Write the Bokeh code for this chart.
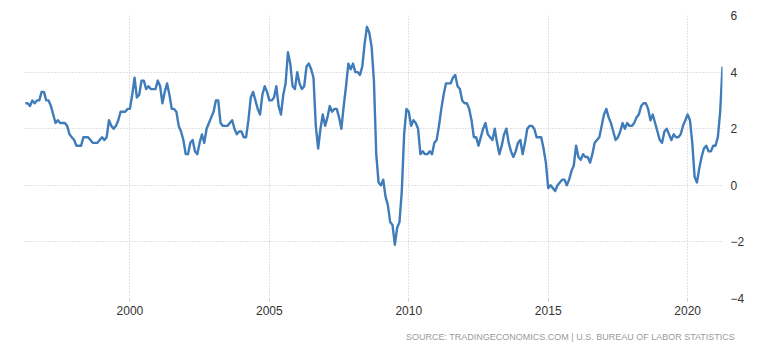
import numpy as np
from bokeh.plotting import figure
from bokeh.models import Range1d, Title, FixedTicker
from bokeh.embed import file_html
from bokeh.resources import INLINE

start_year = 1996
start_month = 4  # April 1996

cpi_yoy = [
    # 1996 (Apr-Dec)
    2.9, 2.9, 2.8, 3.0, 2.9, 3.0, 3.0, 3.3, 3.3,
    # 1997
    3.0, 3.0, 2.8, 2.5, 2.2, 2.3, 2.2, 2.2, 2.2, 2.1, 1.8, 1.7,
    # 1998
    1.6, 1.4, 1.4, 1.4, 1.7, 1.7, 1.7, 1.6, 1.5, 1.5, 1.5, 1.6,
    # 1999
    1.7, 1.6, 1.7, 2.3, 2.1, 2.0, 2.1, 2.3, 2.6, 2.6, 2.6, 2.7,
    # 2000
    2.7, 3.2, 3.8, 3.1, 3.2, 3.7, 3.7, 3.4, 3.5, 3.4, 3.4, 3.4,
    # 2001
    3.7, 3.5, 2.9, 3.3, 3.6, 3.2, 2.7, 2.7, 2.6, 2.1, 1.9, 1.6,
    # 2002
    1.1, 1.1, 1.5, 1.6, 1.2, 1.1, 1.5, 1.8, 1.5, 2.0, 2.2, 2.4,
    # 2003
    2.6, 3.0, 3.0, 2.2, 2.1, 2.1, 2.1, 2.2, 2.3, 2.0, 1.8, 1.9,
    # 2004
    1.9, 1.7, 1.7, 2.3, 3.1, 3.3, 3.0, 2.7, 2.5, 3.2, 3.5, 3.3,
    # 2005
    3.0, 3.0, 3.1, 3.5, 2.8, 2.5, 3.2, 3.6, 4.7, 4.3, 3.5, 3.4,
    # 2006
    4.0, 3.6, 3.4, 3.5, 4.2, 4.3, 4.1, 3.8, 2.1, 1.3, 2.0, 2.5,
    # 2007
    2.1, 2.4, 2.8, 2.6, 2.7, 2.7, 2.4, 2.0, 2.8, 3.5, 4.3, 4.1,
    # 2008
    4.3, 4.0, 4.0, 3.9, 4.2, 5.0, 5.6, 5.4, 4.9, 3.7, 1.1, 0.1,
    # 2009
    0.0, 0.2, -0.4, -0.7, -1.3, -1.4, -2.1, -1.5, -1.3, -0.2, 1.8, 2.7,
    # 2010
    2.6, 2.1, 2.3, 2.2, 2.0, 1.1, 1.2, 1.1, 1.1, 1.2, 1.1, 1.5,
    # 2011
    1.6, 2.1, 2.7, 3.2, 3.6, 3.6, 3.6, 3.8, 3.9, 3.5, 3.4, 3.0,
    # 2012
    2.9, 2.9, 2.7, 2.3, 1.7, 1.7, 1.4, 1.7, 2.0, 2.2, 1.8, 1.7,
    # 2013
    1.6, 2.0, 1.5, 1.1, 1.4, 1.8, 2.0, 1.5, 1.2, 1.0, 1.2, 1.5,
    # 2014
    1.6, 1.1, 1.5, 2.0, 2.1, 2.1, 2.0, 1.7, 1.7, 1.7, 1.3, 0.8,
    # 2015
    -0.1, 0.0, -0.1, -0.2, 0.0, 0.1, 0.2, 0.2, 0.0, 0.2, 0.5, 0.7,
    # 2016
    1.4, 1.0, 0.9, 1.1, 1.0, 1.0, 0.8, 1.1, 1.5, 1.6, 1.7, 2.1,
    # 2017
    2.5, 2.7, 2.4, 2.2, 1.9, 1.6, 1.7, 1.9, 2.2, 2.0, 2.2, 2.1,
    # 2018
    2.1, 2.2, 2.4, 2.5, 2.8, 2.9, 2.9, 2.7, 2.3, 2.5, 2.2, 1.9,
    # 2019
    1.6, 1.5, 1.9, 2.0, 1.8, 1.6, 1.8, 1.7, 1.7, 1.8, 2.1, 2.3,
    # 2020
    2.5, 2.3, 1.5, 0.3, 0.1, 0.6, 1.0, 1.3, 1.4, 1.2, 1.2, 1.4,
    # 2021 (Jan-Apr)
    1.4, 1.7, 2.6, 4.2,
]

x_ticks = [2000, 2005, 2010, 2015, 2020]
y_ticks = [-4, -2, 0, 2, 4, 6]
source_text = "SOURCE:  TRADINGECONOMICS.COM  |  U.S.  BUREAU  OF  LABOR  STATISTICS"

t = [start_year + (start_month - 1 + i) / 12.0 for i in range(len(cpi_yoy))]

p = figure(width=768, height=354, output_backend="svg", toolbar_location=None,
           x_range=Range1d(1996.22, 2021.25), y_range=Range1d(-4, 6),
           y_axis_location="right",
           min_border_left=24, min_border_right=46, min_border_top=15, min_border_bottom=0)
p.outline_line_color = None
p.background_fill_color = "white"
p.border_fill_color = "white"

p.line(t, cpi_yoy, line_color="#3f7cb9", line_width=2.4, line_join="round")

p.xaxis.ticker = FixedTicker(ticks=x_ticks)
p.yaxis.ticker = FixedTicker(ticks=y_ticks)
for ax in (p.xaxis[0], p.yaxis[0]):
    ax.axis_line_color = None
    ax.minor_tick_line_color = None
    ax.major_label_text_font = "Liberation Sans"
    ax.major_label_text_font_size = "12px"
    ax.major_label_text_color = "#333333"
p.xaxis.major_tick_line_color = "#cccccc"
p.xaxis.major_tick_in = 0
p.xaxis.major_tick_out = 3
p.xaxis.major_label_standoff = 4
p.yaxis.major_tick_line_color = None
p.yaxis.major_label_standoff = 2

for g in (p.xgrid[0], p.ygrid[0]):
    g.grid_line_color = "#c4c4c4"
    g.grid_line_dash = "1 2"
    g.grid_line_width = 1
p.xgrid.ticker = FixedTicker(ticks=x_ticks)
p.ygrid.ticker = FixedTicker(ticks=y_ticks)

src = Title(text=source_text, align="right", text_font="Liberation Sans",
            text_font_size="9px", text_color="#9a9a9a", text_font_style="normal",
            offset=-30, standoff=25)
p.add_layout(src, "below")

open("out.html", "w").write(file_html(p, INLINE))
